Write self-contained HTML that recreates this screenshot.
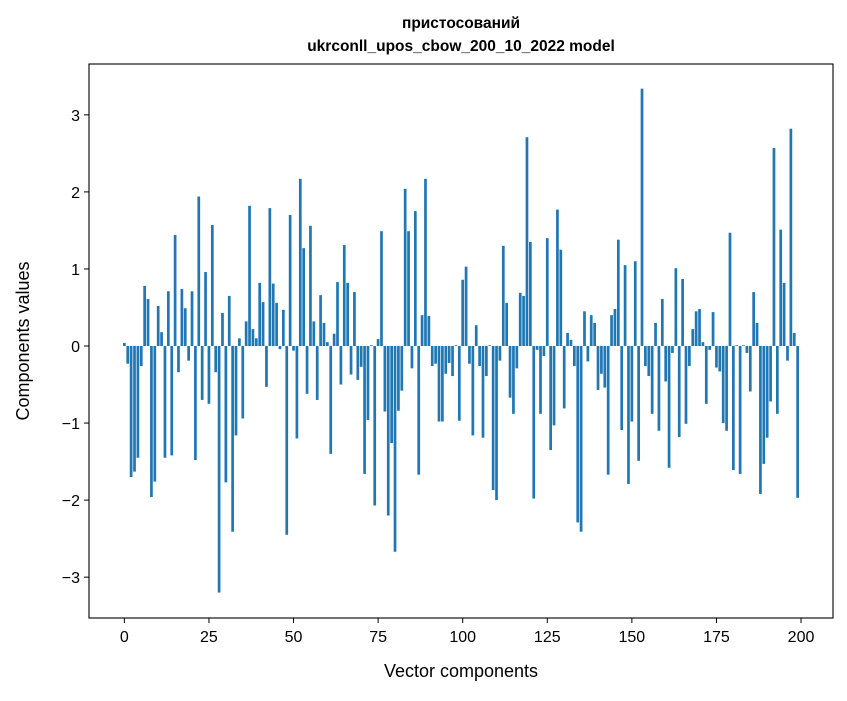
<!DOCTYPE html>
<html><head><meta charset="utf-8"><style>
body{margin:0;background:#fff;font-family:"Liberation Sans","DejaVu Sans",sans-serif;}
</style></head><body>
<svg id="chart" width="847" height="696" xmlns="http://www.w3.org/2000/svg" font-family="Liberation Sans, DejaVu Sans, sans-serif">
<rect width="847" height="696" fill="#fff"/>
<text x="461" y="28" text-anchor="middle" font-size="15.5" font-weight="bold">пристосований</text>
<text x="461" y="51" text-anchor="middle" font-size="15.5" font-weight="bold">ukrconll_upos_cbow_200_10_2022 model</text>
<g id="bars"></g>
<g id="axes"></g>
<text x="461" y="677" text-anchor="middle" font-size="18">Vector components</text>
<text transform="translate(29,341) rotate(-90)" text-anchor="middle" font-size="18">Components values</text>
</svg>
<script>
const values = [0.04,-0.23,-1.70,-1.63,-1.45,-0.26,0.78,0.61,-1.96,-1.76,0.52,0.18,-1.45,0.71,-1.42,1.44,-0.34,0.74,0.49,-0.19,0.71,-1.48,1.94,-0.70,0.96,
-0.75,1.57,-0.34,-3.20,0.43,-1.77,0.65,-2.41,-1.16,0.10,-0.94,0.32,1.82,0.22,0.10,0.82,0.57,-0.53,1.79,0.81,0.56,-0.04,0.47,-2.45,1.70,
-0.06,-1.20,2.17,1.27,-0.62,1.56,0.32,-0.70,0.66,0.30,0.05,-1.40,0.16,0.83,-0.50,1.31,0.82,-0.37,0.70,-0.44,-0.27,-1.66,-0.96,0.01,-2.07,
0.09,1.49,-0.85,-2.20,-1.26,-2.67,-0.84,-0.58,2.04,1.49,-0.29,1.75,-1.67,0.40,2.17,0.39,-0.26,-0.23,-0.98,-0.98,-0.36,-0.22,-0.39,0.01,-0.97,
0.86,1.03,-0.23,-1.16,0.27,-0.26,-1.19,-0.39,0.01,-1.87,-2.00,-0.19,1.30,0.56,-0.67,-0.88,-0.29,0.69,0.65,2.71,1.35,-1.98,-0.05,-0.88,-0.13,
1.40,-1.35,-1.03,1.77,1.25,-0.81,0.17,0.08,-0.26,-2.29,-2.41,0.45,-0.20,0.40,0.30,-0.57,-0.36,-0.54,-1.67,0.40,0.48,1.38,-1.09,1.05,-1.79,
-0.98,1.10,-1.49,3.34,-0.26,-0.39,-0.88,0.30,-1.10,0.61,-0.46,-1.58,-0.09,1.01,-1.18,0.87,-1.01,-0.26,0.22,0.45,0.48,0.05,-0.75,-0.05,0.44,
-0.28,-0.33,-1.00,-1.10,1.47,-1.61,0.01,-1.66,0.01,-0.09,-0.59,0.70,0.30,-1.92,-1.53,-1.19,-0.72,2.57,-0.88,1.51,0.82,-0.19,2.82,0.17,-1.97];
const xTicks = [0,25,50,75,100,125,150,175,200];
const yTicks = [-3,-2,-1,0,1,2,3];
const NS='http://www.w3.org/2000/svg';
const L=89,R=833,T=64,B=618, xMin=-10.45,xMax=209.45, yMin=-3.53,yMax=3.66;
const sx=v=>L+(v-xMin)/(xMax-xMin)*(R-L);
const sy=v=>T+(yMax-v)/(yMax-yMin)*(B-T);
const bars=document.getElementById('bars'), axes=document.getElementById('axes');
function mk(tag,attrs,parent){const e=document.createElementNS(NS,tag);for(const k in attrs)e.setAttribute(k,attrs[k]);parent.appendChild(e);return e;}
values.forEach((v,i)=>{
  const x0=sx(i-0.4),x1=sx(i+0.4),y0=sy(Math.max(v,0)),y1=sy(Math.min(v,0));
  const r=mk('rect',{x:x0,y:y0,width:x1-x0,height:Math.max(y1-y0,0.5),fill:'#1f77b4'},bars);
  
  
});
const frame=mk('rect',{x:L,y:T,width:R-L,height:B-T,fill:'none',stroke:'#000','stroke-width':1.1},axes);


xTicks.forEach(t=>{
  const x=sx(t);
  mk('line',{x1:x,x2:x,y1:B,y2:B+5,stroke:'#000'},axes);
  const tx=mk('text',{x:x,y:B+24,'text-anchor':'middle','font-size':16},axes);
  tx.textContent=t;
  
  
});
yTicks.forEach(t=>{
  const y=sy(t);
  mk('line',{x1:L-5,x2:L,y1:y,y2:y,stroke:'#000'},axes);
  const tx=mk('text',{x:L-9,y:y+6,'text-anchor':'end','font-size':16},axes);
  tx.textContent=t<0?'\u2212'+Math.abs(t):String(t);
  
  
});
</script>
</body></html>
